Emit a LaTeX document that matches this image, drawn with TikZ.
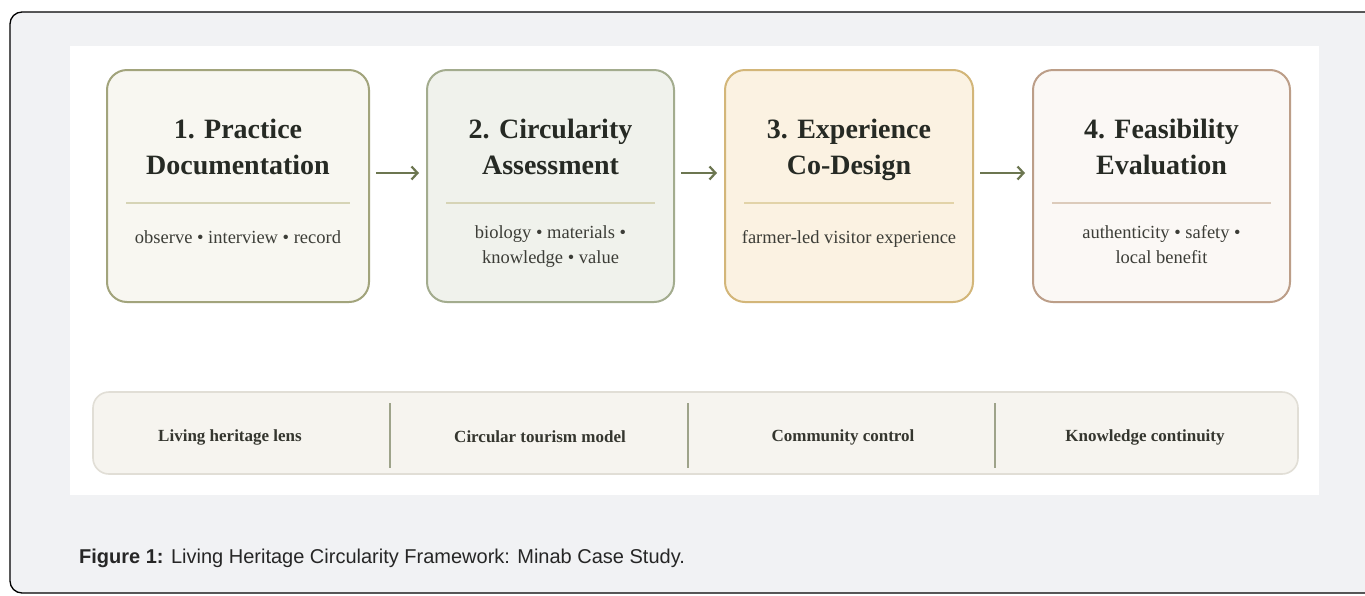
\documentclass[tikz,border=0pt]{standalone}
\usepackage{fontspec}
\setmainfont{Liberation Serif}
\newfontfamily\capfont{Liberation Sans}
\usetikzlibrary{arrows.meta}
\definecolor{framefill}{HTML}{F1F2F4}
\definecolor{titletext}{HTML}{262A24}
\definecolor{subtext}{HTML}{3C3D37}
\definecolor{bartext}{HTML}{35362F}
\definecolor{arrowcol}{HTML}{6C7650}
\definecolor{bOneDraw}{HTML}{A2A47C}
\definecolor{bOneFill}{HTML}{F8F7F1}
\definecolor{bTwoDraw}{HTML}{A3AC8E}
\definecolor{bTwoFill}{HTML}{F0F2EC}
\definecolor{bThreeDraw}{HTML}{D3B679}
\definecolor{bThreeFill}{HTML}{FBF2E2}
\definecolor{bFourDraw}{HTML}{BC9E88}
\definecolor{bFourFill}{HTML}{FBF8F5}
\definecolor{ruleOne}{HTML}{D6D4B6}
\definecolor{ruleThree}{HTML}{E2D3A8}
\definecolor{ruleFour}{HTML}{DCCBBB}
\definecolor{barfill}{HTML}{F6F4EF}
\definecolor{bardraw}{HTML}{E1DED6}
\definecolor{bardiv}{HTML}{9EA38A}
\tikzset{
  stagebox/.style={draw, line width=2pt, rounded corners=20pt, minimum height=232pt, inner sep=0pt},
  titletxt/.style={font=\bfseries\fontsize{28}{36}\selectfont, text=titletext, align=center, inner sep=0pt},
  subtxt/.style={font=\fontsize{18.5}{25}\selectfont, text=subtext, align=center, inner sep=0pt},
  bartxt/.style={font=\bfseries\fontsize{17}{20}\selectfont, text=bartext, inner sep=0pt},
  flowarrow/.style={draw=arrowcol, line width=2.4pt, -{Straight Barb[length=6pt,width=13pt,line width=2.2pt]}, shorten <=6pt, shorten >=7pt},
  inrule/.style={line width=2pt},
  bardivider/.style={draw=bardiv, line width=1.8pt}
}
\begin{document}
\begin{tikzpicture}[x=1pt,y=-1pt]
\useasboundingbox (0,0) rectangle (1365,595);
\begin{scope}
\clip (0,0) rectangle (1365,595);
\draw[black, line width=1.3pt, fill=framefill, rounded corners=12pt] (10,12) rectangle (1390,593);
\end{scope}
\fill[white] (70,46) rectangle (1319,495);

% stage boxes
\node[stagebox, draw=bOneDraw, fill=bOneFill, minimum width=262pt] (b1) at (238,186) {};
\node[stagebox, draw=bTwoDraw, fill=bTwoFill, minimum width=247pt] (b2) at (550.5,186) {};
\node[stagebox, draw=bThreeDraw, fill=bThreeFill, minimum width=248pt] (b3) at (849,186) {};
\node[stagebox, draw=bFourDraw, fill=bFourFill, minimum width=257pt] (b4) at (1161.5,186) {};

% titles
\node[titletxt] (t1) at (238,149) {\strut 1. Practice\\\strut Documentation};
\node[titletxt] (t2) at (550.5,149) {\strut 2. Circularity\\\strut Assessment};
\node[titletxt] (t3) at (849,149) {\strut 3. Experience\\\strut Co-Design};
\node[titletxt] (t4) at (1161.5,149) {\strut 4. Feasibility\\\strut Evaluation};

% inner rules
\draw[inrule, ruleOne] ([xshift=20pt]b1.west |- 0,203) coordinate (r1a) -- ([xshift=-20pt]b1.east |- 0,203) coordinate (r1b);
\draw[inrule, ruleOne] ([xshift=20pt]b2.west |- 0,203) coordinate (r2a) -- ([xshift=-20pt]b2.east |- 0,203) coordinate (r2b);
\draw[inrule, ruleThree] ([xshift=20pt]b3.west |- 0,203) coordinate (r3a) -- ([xshift=-20pt]b3.east |- 0,203) coordinate (r3b);
\draw[inrule, ruleFour] ([xshift=20pt]b4.west |- 0,203) coordinate (r4a) -- ([xshift=-20pt]b4.east |- 0,203) coordinate (r4b);

% subtitles
\node[subtxt] (s1) at (238,238) {\strut observe • interview • record};
\node[subtxt] (s2) at (550.5,246) {\strut biology • materials •\\\strut knowledge • value};
\node[subtxt] (s3) at (849,238) {\strut farmer-led visitor experience};
\node[subtxt] (s4) at (1161.5,246) {\strut authenticity • safety •\\\strut local benefit};

% arrows
\draw[flowarrow] ([yshift=13pt]b1.east) -- ([yshift=13pt]b2.west);
\draw[flowarrow] ([yshift=13pt]b2.east) -- ([yshift=13pt]b3.west);
\draw[flowarrow] ([yshift=13pt]b3.east) -- ([yshift=13pt]b4.west);

% bottom bar
\node[draw=bardraw, fill=barfill, line width=1.6pt, rounded corners=16pt, minimum width=1205pt, minimum height=82pt, inner sep=0pt] (bar) at (695.5,433) {};
\node[bartxt] (l1) at (230,437) {Living heritage lens};
\node[bartxt] (l2) at (540,437) {Circular tourism model};
\node[bartxt] (l3) at (843,437) {Community control};
\node[bartxt] (l4) at (1145,437) {Knowledge continuity};
\coordinate (d1a) at (390,403); \coordinate (d1b) at (390,468);
\coordinate (d2a) at (688,403); \coordinate (d2b) at (688,468);
\coordinate (d3a) at (995,403); \coordinate (d3b) at (995,468);
\draw[bardivider] (d1a) -- (d1b);
\draw[bardivider] (d2a) -- (d2b);
\draw[bardivider] (d3a) -- (d3b);

% caption
\node[anchor=base west, inner sep=0pt, font=\capfont\fontsize{20}{24}\selectfont, text=black!85] (cap) at (79,563) {\textbf{Figure 1:} Living Heritage Circularity Framework: Minab Case Study.};
\end{tikzpicture}
\end{document}
